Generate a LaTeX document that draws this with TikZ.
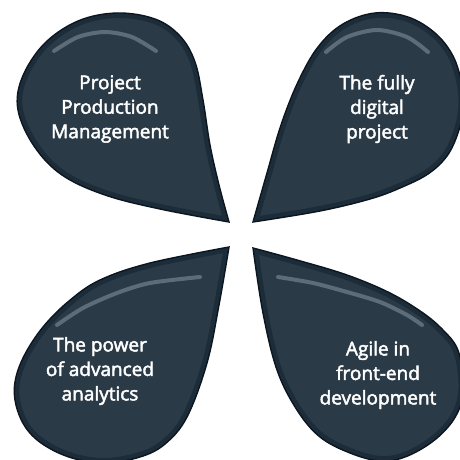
\documentclass[tikz,border=0pt]{standalone}
\usepackage{fontspec}
\setmainfont{Open Sans}
\newfontfamily\lblfont{Open Sans}[FakeBold=2.4]
\definecolor{petalfill}{HTML}{2A3A47}
\definecolor{petalband}{HTML}{1D2C39}
\definecolor{petaledge}{HTML}{0B1620}
\definecolor{shine}{HTML}{5C6C79}
\tikzset{
  lbl/.style={text=white, align=center, inner sep=0pt, font=\lblfont\fontsize{19}{24.5}\selectfont},
  shineline/.style={draw=shine, line width=4pt, line cap=round},
}
\newcommand\pTL{plot[smooth,tension=0.6] coordinates {(229,222) (160,209) (105,195) (62,175) (34,146) (18,110) (22,78) (44,44) (78,21) (117,13) (155,19) (180,36) (195,62) (203,100) (210,145) (219,185) (229,222)} -- cycle}
\newcommand\pTR{plot[smooth,tension=0.6] coordinates {(253,222) (267,173) (281,125) (298,82) (318,47) (343,24) (375,13) (408,17) (435,33) (453,56) (462,85) (463,110) (458,133) (447,156) (428,174) (400,188) (370,199) (320,211) (253,222)} -- cycle}
\newcommand\pBL{plot[smooth,tension=0.6] coordinates {(229,247) (150,263) (100,280) (69,301) (43,327) (24,356) (15,382) (16,405) (26,428) (44,445) (72,458) (105,463) (140,457) (165,444) (187,417) (207,363) (219,305) (229,247)} -- cycle}
\newcommand\pBR{plot[smooth,tension=0.6] coordinates {(253,248) (297,260) (347,275) (390,293) (423,313) (443,330) (457,348) (463,375) (462,400) (452,422) (432,442) (405,457) (380,461) (350,453) (320,437) (297,410) (277,370) (263,313) (253,248)} -- cycle}
\newcommand\drawpetal[1]{%
  \begin{scope}
    \clip #1;
    \fill[petalfill] #1;
    \draw[petalband, line width=10pt] #1;
  \end{scope}
  \draw[petaledge, line width=1.4pt, line join=miter, miter limit=30] #1;
}
\begin{document}
\begin{tikzpicture}[x=1pt,y=-1pt]
\useasboundingbox (0,0) rectangle (460,460);
\clip (0,0) rectangle (460,460);
\drawpetal{\pTL}
\drawpetal{\pTR}
\drawpetal{\pBL}
\drawpetal{\pBR}
\draw[shineline] plot[smooth] coordinates {(54,51) (78,37) (105,32) (132,37) (156,51)};
\draw[shineline] plot[smooth] coordinates {(326,52) (347,37) (377,30) (407,37) (428,52)};
\draw[shineline] plot[smooth] coordinates {(57,325) (83,308) (117,293) (150,283) (200,277)};
\draw[shineline] plot[smooth] coordinates {(278,277) (313,283) (347,292) (380,302) (407,315) (422,325)};
\node[lbl] (tl) at (110,109) {Project\\Production\\Management};
\node[lbl] (tr) at (377,109) {The fully\\digital\\project};
\node[lbl] (bl) at (100,371) {The power\\of advanced\\analytics};
\node[lbl] (br) at (378,375) {Agile in\\front-end\\development};
\end{tikzpicture}
\end{document}
